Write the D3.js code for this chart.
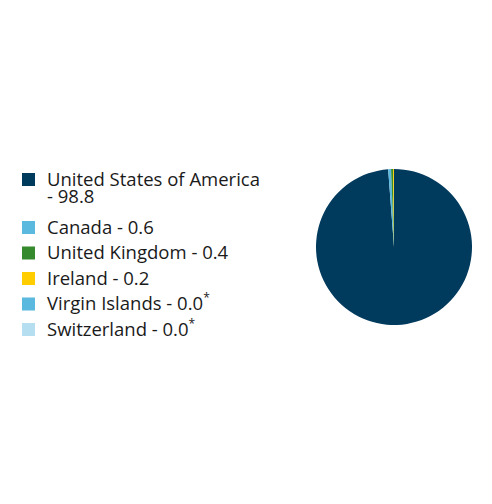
<!DOCTYPE html>
<html>
<head>
<meta charset="utf-8">
<script src="https://cdn.jsdelivr.net/npm/d3@7"></script>
<style>
  body { margin: 0; background: #fff; }
  svg { font-family: "Open Sans", sans-serif; }
</style>
</head>
<body>
<svg id="chart" width="492" height="504"></svg>
<script>
const countries = ["United States of America", "Canada", "United Kingdom", "Ireland", "Virgin Islands", "Switzerland"];
const shares = [98.8, 0.6, 0.4, 0.2, 0.0, 0.0];
const labels = ["98.8", "0.6", "0.4", "0.2", "0.0", "0.0"];
const footnoted = [false, false, false, false, true, true];
const colors = ["#003a5d", "#5bb8de", "#358a2e", "#ffcd00", "#5bb8de", "#b5dff0"];

const svg = d3.select("#chart");

// pie
const radius = 78;
const pieG = svg.append("g").attr("transform", "translate(394,247)");
const pie = d3.pie().sort(null).value((d) => d.value);
const arc = d3.arc().innerRadius(0).outerRadius(radius);
const data = countries.map((c, i) => ({ name: c, value: shares[i], color: colors[i] }));

pieG
  .selectAll("path")
  .data(pie(data))
  .enter()
  .append("path")
  .attr("d", arc)
  .attr("fill", (d) => d.data.color);

// legend
const legend = svg.append("g").attr("transform", "translate(22,173)");
const rowY = [0, 48, 73.5, 99, 124.5, 150];

const item = legend
  .selectAll(".legend")
  .data(data)
  .enter()
  .append("g")
  .attr("class", "legend")
  .attr("transform", (d, i) => `translate(0,${rowY[i]})`);

item
  .append("rect")
  .attr("width", 13)
  .attr("height", 13)
  .attr("fill", (d) => d.color);

item.each(function (d, i) {
  const g = d3.select(this);
  const t = g
    .append("text")
    .attr("x", 25)
    .attr("y", i === 0 ? 13 : 12.5)
    .attr("fill", "#1a1a1a")
    .style("font-size", "18.5px");
  if (i === 0) {
    t.text(d.name);
    g.append("text")
      .attr("x", 25)
      .attr("y", 30)
      .attr("fill", "#1a1a1a")
      .style("font-size", "18.5px")
      .text(`- ${labels[i]}`);
  } else {
    t.text(`${d.name} - ${labels[i]}`);
    if (footnoted[i]) {
      t.append("tspan")
        .attr("dy", -8)
        .style("font-size", "12px")
        .text("*");
    }
  }
});
</script>
</body>
</html>
